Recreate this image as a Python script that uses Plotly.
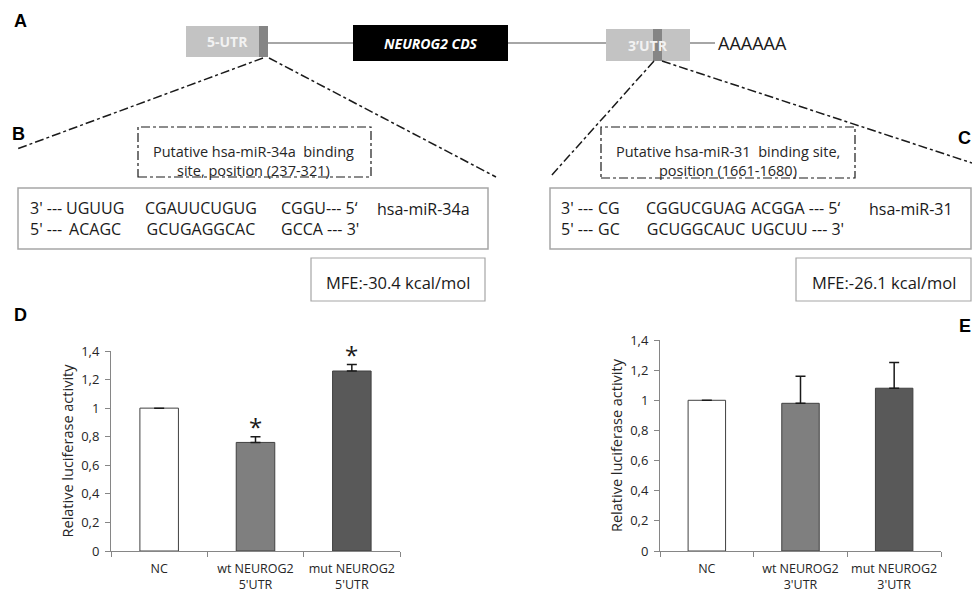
import plotly.graph_objects as go

W, H = 972, 593

def X(px):
    return px / W

def Y(py):
    return 1 - py / H

# ---------------- data ----------------
categories_D = ["NC", "wt NEUROG2<br>5'UTR", "mut NEUROG2<br>5'UTR"]
values_D = [1.0, 0.76, 1.26]
errors_D = [0.0, 0.04, 0.045]
significant_D = [False, True, True]

categories_E = ["NC", "wt NEUROG2<br>3'UTR", "mut NEUROG2<br>3'UTR"]
values_E = [1.0, 0.98, 1.08]
errors_E = [0.0, 0.18, 0.17]

bar_colors = ["#ffffff", "#7f7f7f", "#595959"]
tick_values = [0, 0.2, 0.4, 0.6, 0.8, 1.0, 1.2, 1.4]
tick_labels = ["0", "0,2", "0,4", "0,6", "0,8", "1", "1,2", "1,4"]

# miRNA (top line) / target (bottom line) alignment columns
seq_B_top = ["3' ---", "UGUUG", "CGAUUCUGUG", "CGGU--- 5‘"]
seq_B_bot = ["5' ---", "ACAGC", "GCUGAGGCAC", "GCCA --- 3'"]
seq_C_top = ["3' ---", "CG", "CGGUCGUAG", "ACGGA --- 5‘"]
seq_C_bot = ["5' ---", "GC", "GCUGGCAUC", "UGCUU --- 3'"]

FONT = "Open Sans"
AXIS_GRAY = "#868686"
TXT = "#262626"

fig = go.Figure()

for cats, vals, errs, xa, ya in [
    (categories_D, values_D, errors_D, "x", "y"),
    (categories_E, values_E, errors_E, "x2", "y2"),
]:
    fig.add_trace(go.Bar(
        x=cats, y=vals, width=0.4,
        marker=dict(color=bar_colors, line=dict(color="#404040", width=1)),
        error_y=dict(type="data", symmetric=False, array=errs,
                     arrayminus=[0] * len(errs), color="#1a1a1a",
                     thickness=1.5, width=5),
        xaxis=xa, yaxis=ya, showlegend=False, hoverinfo="skip",
    ))

annotations = []
shapes = []

# significance asterisks
for c, v, e, s in zip(categories_D, values_D, errors_D, significant_D):
    if s:
        annotations.append(dict(x=c, y=v + e, xref="x", yref="y", text="*",
                                showarrow=False, yanchor="middle", yshift=10,
                                font=dict(family=FONT, size=24, color="#1a1a1a")))

def xaxis_style(d0, d1, anchor):
    return dict(domain=[X(d0), X(d1)], anchor=anchor, type="category",
                range=[-0.5, 2.5], showline=True, linecolor=AXIS_GRAY,
                linewidth=1, ticks="outside", tickson="boundaries", ticklen=5,
                tickcolor=AXIS_GRAY, showgrid=False, zeroline=False,
                tickangle=0, ticklabelstandoff=6,
                tickfont=dict(family=FONT, size=12.5, color=TXT),
                automargin=False, fixedrange=True)

def yaxis_style(top, bottom, anchor):
    return dict(domain=[Y(bottom), Y(top)], anchor=anchor, range=[0, 1.4],
                tickvals=tick_values, ticktext=tick_labels, showline=True,
                linecolor=AXIS_GRAY, linewidth=1, ticks="outside", ticklen=5,
                tickcolor=AXIS_GRAY, showgrid=False, zeroline=False,
                ticklabelstandoff=3,
                tickfont=dict(family=FONT, size=13, color=TXT),
                title=dict(text="Relative luciferase activity",
                           font=dict(family=FONT, size=14.5, color=TXT), standoff=4),
                automargin=False, fixedrange=True)

# ---------------- top gene diagram (A) ----------------
LINE_GRAY = "#a6a6a6"
def line(x0, y0, x1, y1, color, width, dash="solid"):
    shapes.append(dict(type="line", xref="paper", yref="paper",
                       x0=X(x0), y0=Y(y0), x1=X(x1), y1=Y(y1),
                       line=dict(color=color, width=width, dash=dash)))

def rect(x0, y0, x1, y1, fill, lc=None, lw=0, dash="solid"):
    shapes.append(dict(type="rect", xref="paper", yref="paper",
                       x0=X(x0), y0=Y(y1), x1=X(x1), y1=Y(y0),
                       fillcolor=fill,
                       line=dict(color=lc if lc else fill, width=lw, dash=dash)))

def text(x, y, t, size, color=TXT, family=FONT, xanchor="center", align="center"):
    annotations.append(dict(x=X(x), y=Y(y), xref="paper", yref="paper", text=t,
                            showarrow=False, xanchor=xanchor, yanchor="middle",
                            borderpad=0,
                            font=dict(family=family, size=size, color=color),
                            align=align))

line(268, 43, 353, 43, LINE_GRAY, 2)
line(508, 43, 606, 43, LINE_GRAY, 2)
line(690, 43, 715, 43, LINE_GRAY, 2)

rect(186, 26, 260, 57, "#c3c3c3")
rect(259, 26, 268, 57, "#858585")
rect(353, 25, 508, 61, "#000000")
rect(606, 29, 690, 61, "#c3c3c3")
rect(653, 29, 662, 61, "#858585")

text(227, 41, "<b>5-UTR</b>", 14, color="#f2f2f2")
text(431, 43, "<b><i>NEUROG2 CDS</i></b>", 14, color="#ffffff")
text(648, 45, "<b>3’UTR</b>", 14, color="#f2f2f2")
text(717, 43, "AAAAAA", 18, color="#1a1a1a", xanchor="left")

# dash-dot zoom lines
line(263, 58, 17, 149, "#1a1a1a", 1.5, "dashdot")
line(269, 58, 496, 177, "#1a1a1a", 1.5, "dashdot")
line(654, 61, 551, 176, "#1a1a1a", 1.5, "dashdot")
line(662, 61, 972, 163, "#1a1a1a", 1.5, "dashdot")

# panel letters
for (lx, ly, lt) in [(20, 21, "A"), (18, 134, "B"), (964, 138, "C"),
                     (20, 315, "D"), (965, 326, "E")]:
    text(lx, ly, "<b>%s</b>" % lt, 18, color="#000000", family="Liberation Sans")

# ---------------- binding site boxes (B, C) ----------------
rect(138, 127, 371, 177, "rgba(0,0,0,0)", "#1a1a1a", 1.2, "dashdot")
text(254, 152, "Putative hsa-miR-34a  binding", 14.5)
text(254, 170, "site, position (237-321)", 14.5)

rect(601, 127, 855, 178, "rgba(0,0,0,0)", "#1a1a1a", 1.2, "dashdot")
text(728, 152, "Putative hsa-miR-31  binding site,", 14.5)
text(728, 170, "position (1661-1680)", 14.5)

# sequence boxes
rect(18, 188, 488, 249, "rgba(0,0,0,0)", "#a6a6a6", 1.5)
rect(550, 188, 971, 249, "rgba(0,0,0,0)", "#a6a6a6", 1.5)

SEQ = 16
col_B = [(29, "left"), (95, "center"), (200.5, "center"), (280, "left")]
col_C = [(560, "left"), (609, "center"), (696, "center"), (750, "left")]
for cols, tops, bots in [(col_B, seq_B_top, seq_B_bot), (col_C, seq_C_top, seq_C_bot)]:
    for (cx, anc), t1, t2 in zip(cols, tops, bots):
        text(cx, 218.5, t1 + "<br>" + t2, SEQ, color="#1a1a1a",
             xanchor=anc, align=anc)
text(423, 209, "hsa-miR-34a", SEQ, color="#1a1a1a")
text(911, 209, "hsa-miR-31", SEQ, color="#1a1a1a")

# MFE boxes
rect(311, 258, 485, 301, "rgba(0,0,0,0)", "#a6a6a6", 1.2)
text(398, 282, "MFE:-30.4 kcal/mol", 16.5, color="#1a1a1a")
rect(796, 258, 971, 301, "rgba(0,0,0,0)", "#a6a6a6", 1.2)
text(884, 282, "MFE:-26.1 kcal/mol", 16.5, color="#1a1a1a")

fig.update_layout(
    template="none",
    width=W, height=H, autosize=False,
    margin=dict(l=0, r=0, t=0, b=0),
    paper_bgcolor="white", plot_bgcolor="white",
    showlegend=False,
    xaxis=xaxis_style(111, 400, "y"),
    yaxis=yaxis_style(351, 551, "x"),
    xaxis2=xaxis_style(660, 941, "y2"),
    yaxis2=yaxis_style(340, 551, "x2"),
    shapes=shapes,
    annotations=annotations,
    font=dict(family=FONT, color=TXT),
)

fig.write_html("out.html", config={"displayModeBar": False},
               post_script="document.body.style.margin='0';")
